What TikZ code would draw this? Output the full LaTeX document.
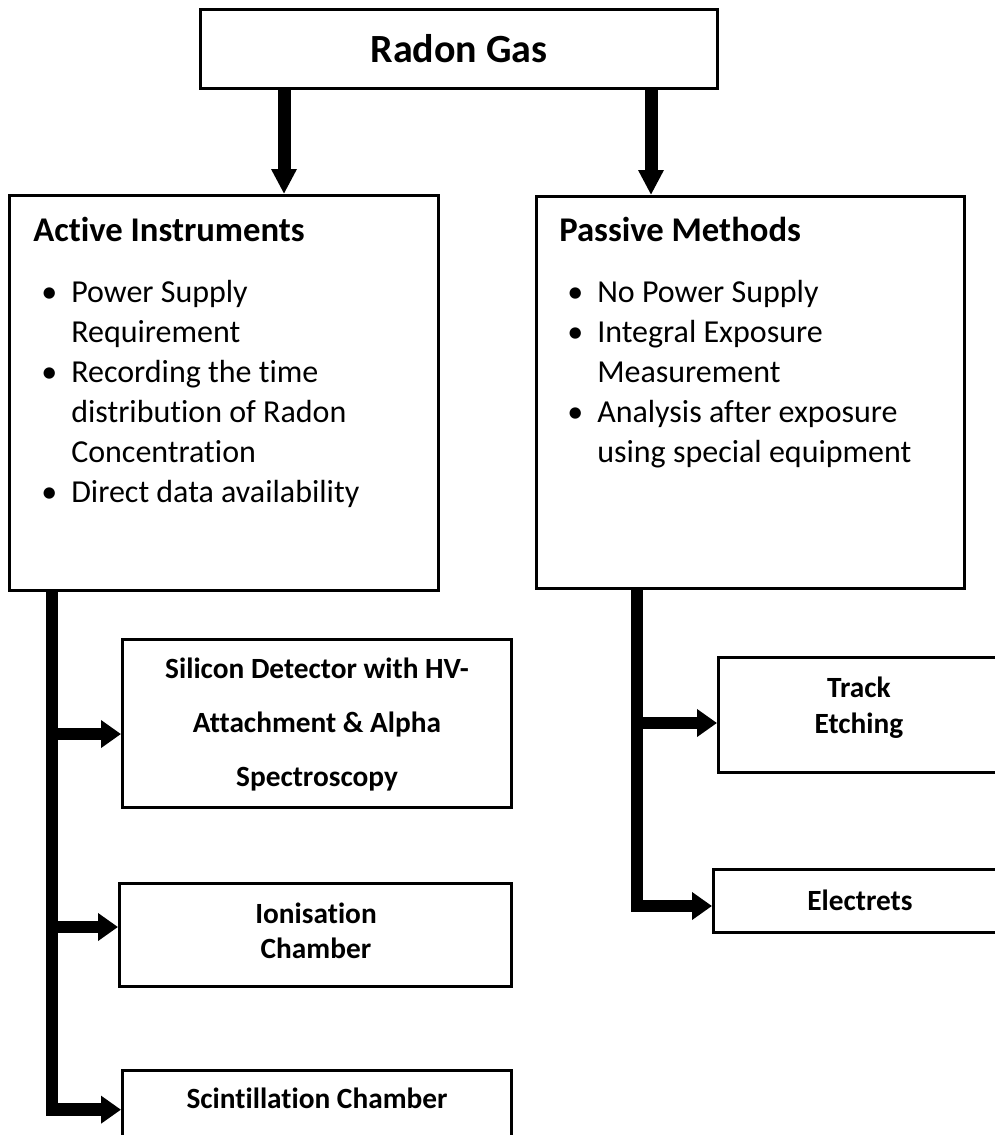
\documentclass[tikz,border=0pt]{standalone}
\usepackage{fontspec}
\setmainfont{Carlito}[Ligatures=NoCommon]
\usetikzlibrary{arrows.meta}

\begin{document}
\begin{tikzpicture}[x=0.75pt,y=-0.75pt,
  box/.style={draw, line width=2.25pt, rectangle, inner sep=0pt, anchor=north west},
  headfont/.style={font=\bfseries\fontsize{30}{36}\selectfont},
  titlefont/.style={font=\bfseries\fontsize{26}{30}\selectfont},
  listfont/.style={font=\fontsize{24}{30}\selectfont},
  labelfont/.style={font=\bfseries\fontsize{22}{26}\selectfont},
  textnode/.style={inner sep=0pt, anchor=base west},
  labelnode/.style={inner sep=0pt, anchor=base, labelfont},
  downarrow/.style={line width=9.75pt, -{Triangle[width=18pt,length=18.75pt]}},
  branch/.style={line width=9.5pt, line join=miter, -{Triangle[width=20pt,length=15pt]}}]

\useasboundingbox (0,0) rectangle (995,1135);
\clip (0,0) rectangle (995,1135);
\fill[white] (0,0) rectangle (995,1135);

% top box
\node[box, minimum width=387.75pt, minimum height=59.25pt, headfont] (radon) at (199,8) {Radon Gas};

% the two method boxes
\node[box, minimum width=321.75pt, minimum height=296.25pt] (active) at (8,194) {};
\node[box, minimum width=321pt, minimum height=294pt] (passive) at (535,195) {};

\node[textnode, titlefont] (acttitle) at (33,241) {Active Instruments};
\node[textnode, listfont] (actlist) at (41,302) {%
  \begin{tabular}[t]{@{}l@{}l@{}}
  \makebox[22.5pt][l]{\textbullet} & Power Supply\\
   & Requirement\\
  \makebox[22.5pt][l]{\textbullet} & Recording the time\\
   & distribution of Radon\\
   & Concentration\\
  \makebox[22.5pt][l]{\textbullet} & Direct data availability
  \end{tabular}};

\node[textnode, titlefont] (pastitle) at (559,241) {Passive Methods};
\node[textnode, listfont] (paslist) at (567,302) {%
  \begin{tabular}[t]{@{}l@{}l@{}}
  \makebox[22.5pt][l]{\textbullet} & No Power Supply\\
  \makebox[22.5pt][l]{\textbullet} & Integral Exposure\\
   & Measurement\\
  \makebox[22.5pt][l]{\textbullet} & Analysis after exposure\\
   & using special equipment
  \end{tabular}};

% active instrument boxes
\node[box, minimum width=291.75pt, minimum height=126pt] (silicon) at (121,638) {};
\node[box, minimum width=294pt, minimum height=77.25pt] (ionis) at (118,882) {};
\node[box, minimum width=291.75pt, minimum height=96pt] (scint) at (121,1069) {};

\node[labelnode] (siltxt) at (317,678) {\fontsize{22}{40.5}\selectfont
  \begin{tabular}[t]{@{}c@{}}Silicon Detector with HV-\\Attachment \& Alpha\\Spectroscopy\end{tabular}};
\node[labelnode] (iontxt) at (316,923) {\fontsize{22}{26.25}\selectfont
  \begin{tabular}[t]{@{}c@{}}Ionisation\\Chamber\end{tabular}};
\node[labelnode] (scinttxt) at (317,1108) {Scintillation Chamber};

% passive method boxes
\node[box, minimum width=212.25pt, minimum height=86.25pt] (track) at (717,656) {};
\node[box, minimum width=219.75pt, minimum height=47.25pt] (electrets) at (712,868) {};

\node[labelnode] (tracktxt) at (859,697) {\fontsize{22}{27}\selectfont
  \begin{tabular}[t]{@{}c@{}}Track\\Etching\end{tabular}};
\node[labelnode] (electxt) at (860,910) {Electrets};

% connectors from the top box
\coordinate (colA) at (284,0);
\coordinate (colB) at (651,0);
\draw[downarrow] (radon.south -| colA) -- (active.north -| colA);
\draw[downarrow] (radon.south -| colB) -- (passive.north -| colB);

% trunk and branches on the left
\coordinate (trunkA) at (52,0);
\coordinate (silIn) at ([yshift=-7.9pt]silicon.west);
\coordinate (ionIn) at ([yshift=6pt]ionis.west);
\coordinate (scIn) at ([yshift=-30.5pt]scint.north west);
\draw[branch] (active.south -| trunkA) |- (scIn);
\draw[branch] (silIn -| trunkA) -- (silIn);
\draw[branch] (ionIn -| trunkA) -- (ionIn);

% trunk and branches on the right
\coordinate (trunkB) at (637,0);
\coordinate (trIn) at ([yshift=-6pt]track.west);
\coordinate (elIn) at ([yshift=-3.75pt]electrets.west);
\draw[branch] (passive.south -| trunkB) |- (elIn);
\draw[branch] (trIn -| trunkB) -- (trIn);
\end{tikzpicture}
\end{document}
